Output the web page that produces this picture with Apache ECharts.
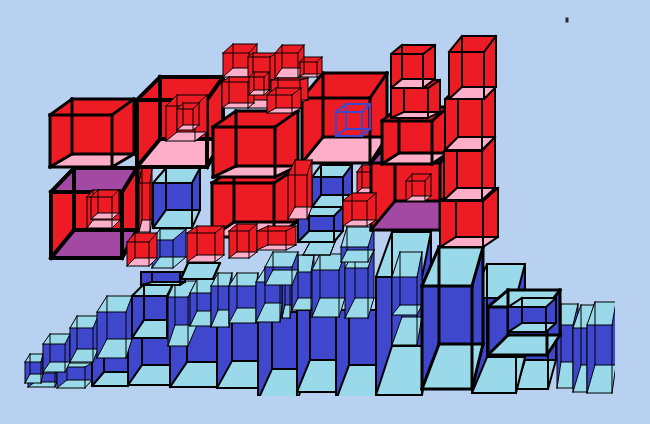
<!DOCTYPE html>
<html><head><meta charset="utf-8">
<style>html,body{margin:0;padding:0;background:#b9d1f1}#c{width:650px;height:424px}</style>
<script src="https://cdn.jsdelivr.net/npm/echarts@6/dist/echarts.min.js"></script>
</head><body><div id="c"></div>
<script>
// each box: front rectangle x0,y0,x1,y1 then back rectangle x0,y0,x1,y1
const blueLower = [
 [28,373,55,387,35,370,57,382],
 [57,367,85,388,67,363,92,380],
 [92,350,128,386,104,345,132,372],
 [128,338,170,385,142,325,185,365],
 [170,300,217,387,187,285,228,362],
 [217,315,258,388,232,315,265,361],
 [258,312,297,400,272,312,310,369],
 [297,310,336,392,310,310,345,360],
 [336,310,376,400,349,310,385,365],
 [376,277,422,395,392,232,431,346],
 [392,290,417,345,402,270,422,317],
 [392,277,417,315,400,252,422,305],
 [516,340,548,389,525,325,556,360],
 [472,298,516,393,487,264,525,357],
 [422,286,472,389,439,247,483,344],
 [557,325,573,388,561,304,578,362],
 [573,328,587,392,581,305,594,365],
 [587,325,612,393,595,302,616,365],
 [488,307,547,355,508,290,560,335],
 [508,307,546,332,522,298,556,323]
];
const blueMiddle = [
 [25,362,41,383,30,354,43,374],
 [43,344,65,372,50,334,70,362],
 [70,328,93,362,77,316,98,349],
 [97,312,126,358,107,296,132,339],
 [132,296,167,338,144,284,173,320],
 [168,297,188,346,175,281,197,325],
 [190,293,211,326,197,279,218,311],
 [211,286,229,327,218,273,232,310],
 [229,286,256,323,237,273,258,308],
 [282,270,290,318,285,267,292,305],
 [256,282,280,322,265,268,282,303],
 [292,272,311,310,298,255,314,298],
 [312,270,339,317,320,254,345,298],
 [345,268,368,318,355,250,374,298]
];
const blueUpper = [
 [141,272,180,285,152,272,185,282],
 [181,279,213,279,188,263,220,263],
 [265,267,292,285,273,252,298,270],
 [303,255,330,255,310,242,335,242],
 [298,216,334,242,309,207,343,231],
 [341,247,368,262,347,227,374,250],
 [312,177,343,207,321,165,352,195],
 [153,183,192,228,166,168,200,210],
 [152,240,173,268,160,229,186,257]
];
const redBehindRight = [[357,172,372,193,362,165,378,188]];
const purpleRight = [[371,163,440,230,395,135,463,201]];
const redRight = [
 [406,181,425,201,412,174,431,196],
 [302,98,370,163,323,73,387,137],
 [382,121,432,164,399,107,448,153],
 [391,88,428,118,404,80,440,112],
 [391,54,423,88,402,45,435,79],
 [440,201,483,247,456,188,498,237],
 [444,151,482,200,457,137,495,188],
 [445,99,482,150,458,87,495,137],
 [449,52,484,99,462,36,496,87],
 [343,201,367,226,352,193,376,220]
];
const redBehindLeft = [
 [139,150,150,183,142,130,152,168],
 [139,183,150,232,142,168,152,220]
];
const purpleLeft = [[51,192,122,258,74,168,137,230]];
const redLeft = [
 [87,197,112,228,93,190,120,220],
 [91,197,112,219,98,190,119,213],
 [50,115,112,167,72,99,134,154],
 [137,100,207,167,160,77,223,139],
 [166,106,195,141,177,95,207,132],
 [177,109,193,130,183,103,199,125],
 [212,183,274,237,234,168,297,222],
 [213,127,275,177,236,111,298,166],
 [288,175,307,219,295,160,312,207],
 [127,242,149,266,135,233,157,258],
 [187,233,215,262,197,226,224,255],
 [229,231,249,258,237,224,257,252],
 [257,231,286,250,268,226,296,245],
 [223,53,249,77,233,44,257,68],
 [248,57,270,108,253,53,277,100],
 [275,53,298,78,282,45,304,68],
 [300,62,317,77,304,57,322,74],
 [271,80,300,102,278,78,308,100],
 [222,82,248,108,229,77,254,103],
 [249,77,264,95,254,72,269,90],
 [267,95,292,113,276,88,301,108]
];
const outlineBoxes = [[336,112,362,136,346,104,370,129]];
const cornerMark = [[567,20]];

const BLACK='#000', RED='#ed1c24', PINK='#ffaec9', BLUE='#3f48cc', SKY='#99d9ea', PURPLE='#a349a4';

function boxSeries(data, wall, roof, floor, stroke, fixedWidth) {
  return {
    type:'custom', coordinateSystem:'cartesian2d', data, clip:true, silent:true, animation:false,
    renderItem(params, api) {
      const p = (i,j)=>api.coord([api.value(i),api.value(j)]);
      const F=[p(0,1),p(2,1),p(2,3),p(0,3)], B=[p(4,5),p(6,5),p(6,7),p(4,7)];
      const w=Math.abs(F[1][0]-F[0][0]);
      const lw=fixedWidth||Math.max(1,Math.min(4,Math.round(w/20)));
      const kids=[];
      const poly=(pts,fill)=>kids.push({type:'polygon',shape:{points:pts},style:{fill,stroke:null}});
      const line=(a,b)=>kids.push({type:'line',shape:{x1:a[0],y1:a[1],x2:b[0],y2:b[1]},style:{stroke,lineWidth:lw,lineCap:'square'}});
      if(wall){
        poly(B,wall);
        poly([F[0],F[3],B[3],B[0]],wall);
        poly([F[1],F[2],B[2],B[1]],wall);
        poly([F[0],F[1],B[1],B[0]],roof);
        poly([F[3],F[2],B[2],B[3]],floor);
      }
      for(let i=0;i<4;i++){ line(B[i],B[(i+1)%4]); line(F[i],B[i]); }
      for(let i=0;i<4;i++){ line(F[i],F[(i+1)%4]); }
      return {type:'group',children:kids};
    }
  };
}

const chart = echarts.init(document.getElementById('c'),null,{renderer:'canvas'});
chart.setOption({
  animation:false,
  backgroundColor:'#b9d1f1',
  grid:{left:0,top:0,right:35,bottom:28},
  xAxis:{type:'value',min:0,max:615,show:false},
  yAxis:{type:'value',min:0,max:396,inverse:true,show:false},
  series:[
    boxSeries(blueLower,BLUE,SKY,SKY,BLACK),
    boxSeries(blueMiddle,BLUE,SKY,SKY,BLACK),
    boxSeries(blueUpper,BLUE,SKY,SKY,BLACK),
    boxSeries(redBehindRight,RED,RED,PINK,BLACK),
    boxSeries(purpleRight,RED,PURPLE,PURPLE,BLACK),
    boxSeries(redRight,RED,RED,PINK,BLACK),
    boxSeries(redBehindLeft,RED,RED,PINK,BLACK),
    boxSeries(purpleLeft,RED,PURPLE,PURPLE,BLACK),
    boxSeries(redLeft,RED,RED,PINK,BLACK),
    boxSeries(outlineBoxes,null,null,null,BLUE,2),
    {type:'scatter',data:cornerMark,symbol:'rect',symbolSize:[3,5],itemStyle:{color:BLACK},silent:true,animation:false}
  ]
});
</script></body></html>
